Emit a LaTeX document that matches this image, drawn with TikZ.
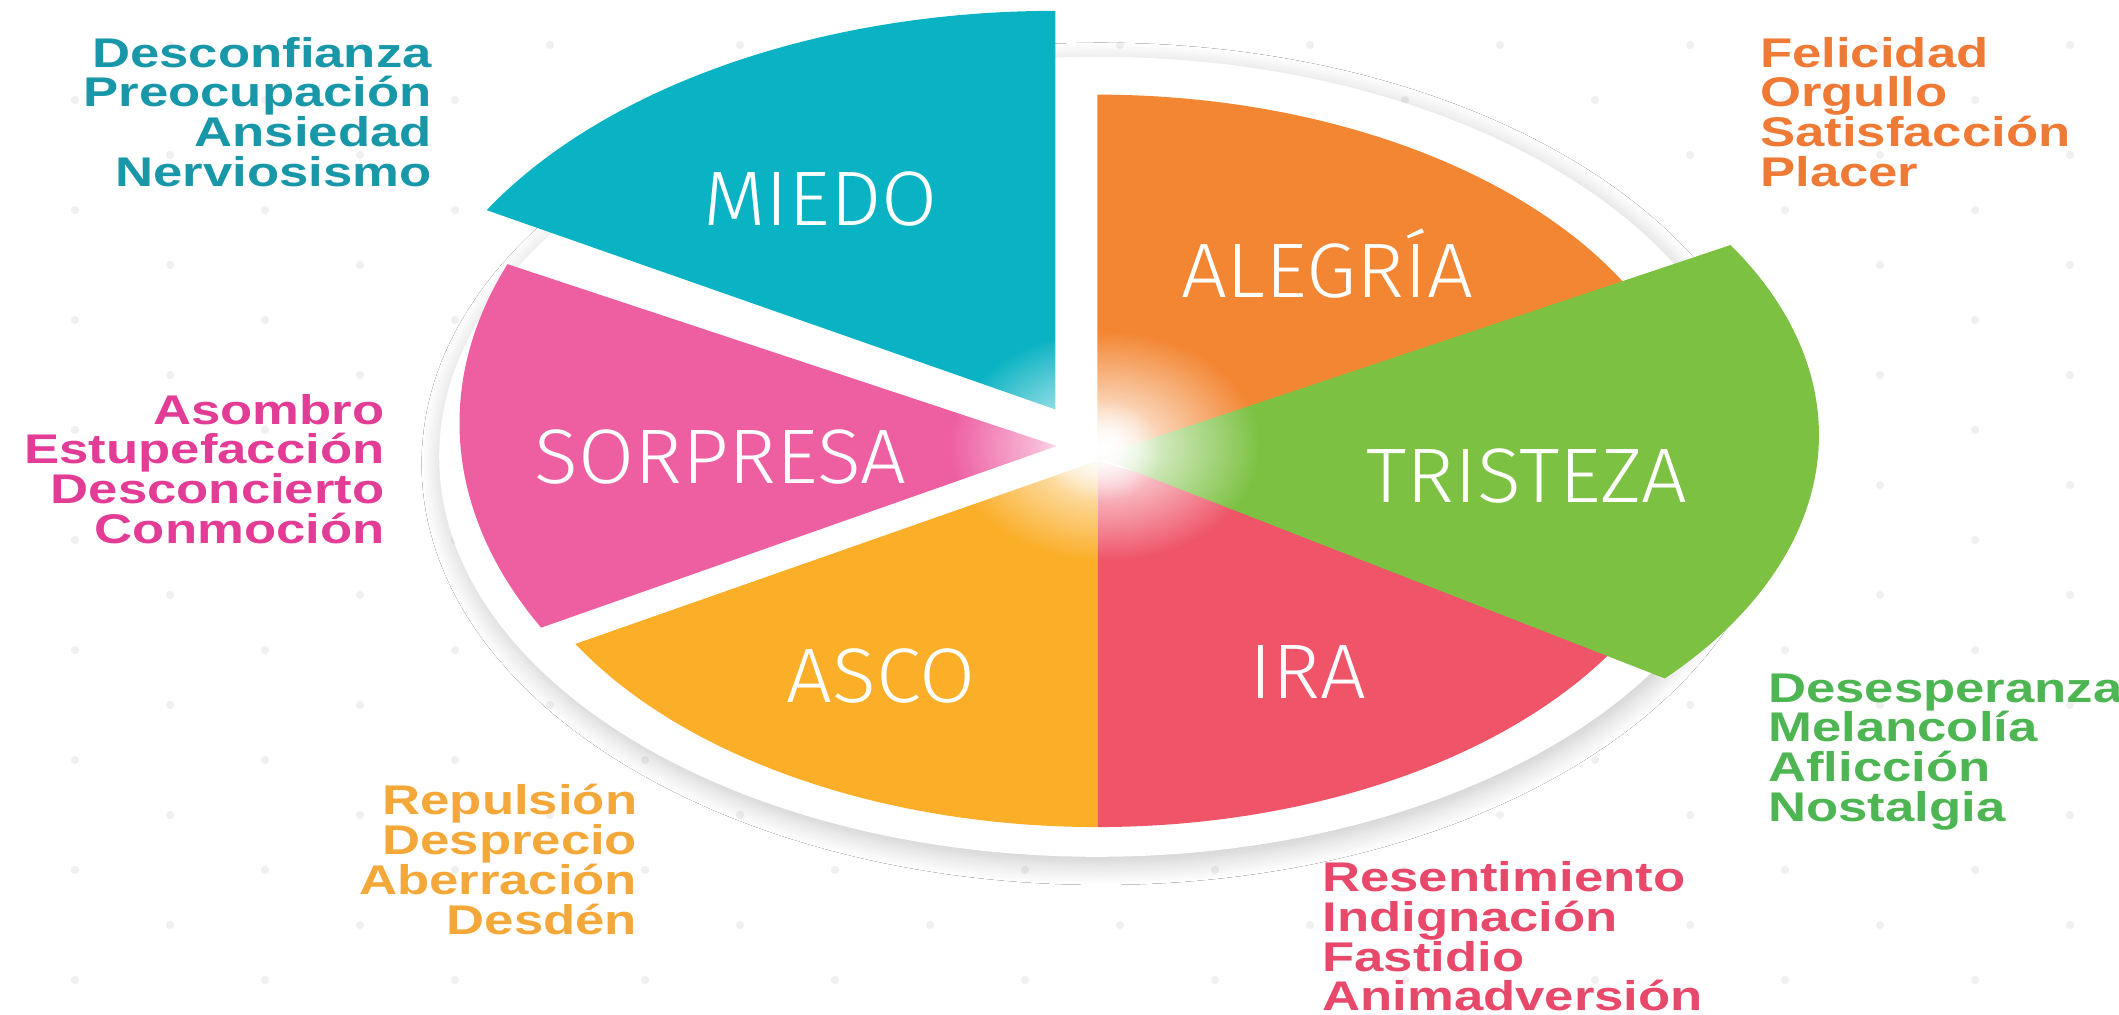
\documentclass[tikz,border=0pt]{standalone}
\usepackage{fontspec}
\usetikzlibrary{fadings,shadows.blur}

\setmainfont{Liberation Sans}
\newfontfamily\listfont[FakeStretch=1.27]{Liberation Sans}
\newfontfamily\pielabelfont[FakeStretch=1.05]{Fira Sans Light}

\definecolor{miedo}{HTML}{0AB3C3}
\definecolor{alegria}{HTML}{F38632}
\definecolor{tristeza}{HTML}{7CC142}
\definecolor{ira}{HTML}{EF5468}
\definecolor{asco}{HTML}{FBAE28}
\definecolor{sorpresa}{HTML}{EE5FA2}
\definecolor{miedotxt}{HTML}{1797A8}
\definecolor{alegriatxt}{HTML}{EE7A36}
\definecolor{tristezatxt}{HTML}{4DB551}
\definecolor{iratxt}{HTML}{E8496A}
\definecolor{ascotxt}{HTML}{F4A83A}
\definecolor{sorpresatxt}{HTML}{E23C96}

\tikzfading[name=glow, inner color=transparent!0, outer color=transparent!100]

\begin{document}
\begin{tikzpicture}[
  x=0.13514mm, y=-0.13514mm,
  bgdot/.style={fill=black!6},
  plate/.style={fill=white, blur shadow={shadow xshift=1pt, shadow yshift=-2pt, shadow blur radius=6pt, shadow blur steps=12, shadow opacity=22}},
  pielabel/.style={text=white, font=\pielabelfont\fontsize{22}{26}\selectfont, inner sep=0pt},
  wordlist/.style={font=\listfont\bfseries\fontsize{11.8}{11.3}\selectfont, inner sep=0pt}
]

\useasboundingbox (0,0) rectangle (1568,751);
\fill[white] (0,0) rectangle (1568,751);

% Background dots
\foreach \row in {-1,...,18} {
  \pgfmathsetmacro{\off}{mod(\row+2,2)*70.3}
  \foreach \col in {-9,...,2}
    \fill[bgdot] ({1250.6+\off+140.6*\col}, {33.3+40.7*\row}) circle (3);
}

% Plate
\path[plate] (812,338) ellipse[x radius=487, y radius=296];

% Slices around the centre
\fill[alegria] (812,341) -- plot[domain=90:25, samples=60] ({812+446*cos(\x)}, {341-271*sin(\x)}) -- cycle;
\fill[ira] (812,341) -- plot[domain=-25:-90, samples=60] ({812+446*cos(\x)}, {341-271*sin(\x)}) -- cycle;
\fill[asco] (812,341) -- plot[domain=270:210, samples=60] ({812+446*cos(\x)}, {341-271*sin(\x)}) -- cycle;

% Pulled-out slices
\fill[miedo] (781,303) -- plot[domain=90:150, samples=60] ({781+486*cos(\x)}, {303-295*sin(\x)}) -- cycle;
\fill[sorpresa] (782,330) -- plot[domain=159:207.5, samples=60] ({875+535*cos(\x)}, {313-328*sin(\x)}) -- cycle;
\fill[tristeza] (812,338) -- plot[domain=31.8:-42.4, samples=60] ({910+436*cos(\x)}, {322-267*sin(\x)}) -- cycle;

% Light in the middle
\fill[white, path fading=glow] (818,330) ellipse[x radius=115, y radius=85];
\fill[white, path fading=glow] (814,333) ellipse[x radius=45, y radius=38];

% Slice names
\node[pielabel] (miedo) at (607,147) {MIEDO};
\node[pielabel] (alegria) at (982,195) {ALEGRÍA};
\node[pielabel] (tristeza) at (1130,352) {TRISTEZA};
\node[pielabel] (sorpresa) at (533,338) {SORPRESA};
\node[pielabel] (asco) at (652,500) {ASCO};
\node[pielabel] (ira) at (968,497) {IRA};

% Word lists
\node[wordlist, text=miedotxt, align=right, anchor=north east] (miedoList) at (320,27) {Desconfianza\\Preocupación\\Ansiedad\\Nerviosismo};
\node[wordlist, text=alegriatxt, align=left, anchor=north west] (alegriaList) at (1302,27) {Felicidad\\Orgullo\\Satisfacción\\Placer};
\node[wordlist, text=sorpresatxt, align=right, anchor=north east] (sorpresaList) at (285,291) {Asombro\\Estupefacción\\Desconcierto\\Conmoción};
\node[wordlist, text=tristezatxt, align=left, anchor=north west] (tristezaList) at (1308,498) {Desesperanza\\Melancolía\\Aflicción\\Nostalgia};
\node[wordlist, text=ascotxt, align=right, anchor=north east] (ascoList) at (472,580) {Repulsión\\Desprecio\\Aberración\\Desdén};
\node[wordlist, text=iratxt, align=left, anchor=north west] (iraList) at (978,637) {Resentimiento\\Indignación\\Fastidio\\Animadversión};

\end{tikzpicture}
\end{document}
